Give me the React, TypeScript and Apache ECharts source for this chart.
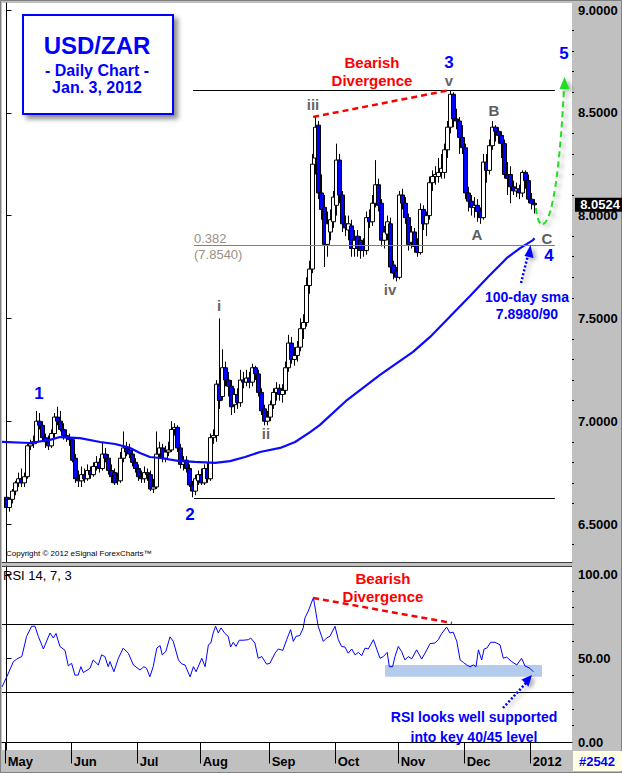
import React, { useEffect, useRef } from 'react';
import * as echarts from 'echarts';

// ---------- data ----------
const monthLabels = ['May', 'Jun', 'Jul', 'Aug', 'Sep', 'Oct', 'Nov', 'Dec', '2012'];
const monthStartBars = [0, 22, 44, 65, 88, 110, 131, 153, 175];

// daily bars, [open, high, low, close]
const ohlc: number[][] = [
  [6.63, 6.65, 6.56, 6.58], [6.58, 6.63, 6.56, 6.62], [6.62, 6.67, 6.60, 6.66], [6.66, 6.71, 6.64, 6.70],
  [6.70, 6.75, 6.68, 6.72], [6.72, 6.77, 6.68, 6.70], [6.70, 6.75, 6.68, 6.73], [6.73, 6.89, 6.72, 6.88],
  [6.88, 6.91, 6.86, 6.89], [6.89, 6.93, 6.87, 6.90], [6.90, 7.05, 6.89, 7.00], [7.00, 7.04, 6.96, 6.98],
  [6.98, 7.00, 6.90, 6.92], [6.92, 6.94, 6.87, 6.90], [6.90, 6.93, 6.86, 6.88], [6.88, 6.96, 6.87, 6.94],
  [6.94, 7.04, 6.92, 7.02], [7.02, 7.07, 6.98, 7.00], [7.00, 7.05, 6.95, 6.96], [6.96, 6.99, 6.91, 6.93],
  [6.93, 6.96, 6.90, 6.92], [6.92, 6.94, 6.88, 6.91],
  [6.91, 6.92, 6.80, 6.81], [6.82, 6.84, 6.70, 6.72], [6.72, 6.76, 6.68, 6.71], [6.71, 6.78, 6.68, 6.74],
  [6.74, 6.77, 6.70, 6.72], [6.72, 6.79, 6.71, 6.76], [6.76, 6.78, 6.72, 6.74], [6.74, 6.80, 6.73, 6.78],
  [6.78, 6.83, 6.76, 6.80], [6.80, 6.82, 6.75, 6.77], [6.77, 6.90, 6.76, 6.84], [6.84, 6.87, 6.80, 6.82],
  [6.82, 6.84, 6.74, 6.76], [6.76, 6.79, 6.70, 6.73], [6.75, 6.77, 6.69, 6.70], [6.72, 6.75, 6.69, 6.71],
  [6.71, 6.85, 6.70, 6.82], [6.82, 6.95, 6.80, 6.87], [6.87, 6.90, 6.83, 6.85], [6.86, 6.89, 6.82, 6.84],
  [6.84, 6.86, 6.78, 6.80], [6.80, 6.82, 6.75, 6.77],
  [6.77, 6.79, 6.71, 6.73], [6.73, 6.76, 6.70, 6.72], [6.72, 6.78, 6.70, 6.75], [6.75, 6.77, 6.71, 6.74],
  [6.74, 6.76, 6.66, 6.67], [6.67, 6.72, 6.65, 6.68], [6.68, 6.95, 6.67, 6.84], [6.84, 6.90, 6.82, 6.87],
  [6.87, 6.89, 6.80, 6.82], [6.82, 6.88, 6.80, 6.85], [6.85, 6.90, 6.83, 6.86], [6.86, 7.00, 6.85, 6.96],
  [6.96, 6.99, 6.93, 6.97], [6.97, 6.98, 6.85, 6.87], [6.87, 6.89, 6.77, 6.79], [6.79, 6.83, 6.76, 6.81],
  [6.81, 6.83, 6.75, 6.77], [6.77, 6.79, 6.68, 6.69], [6.69, 6.71, 6.63, 6.66], [6.66, 6.74, 6.64, 6.72],
  [6.71, 6.76, 6.69, 6.74],
  [6.74, 6.77, 6.69, 6.70], [6.70, 6.79, 6.69, 6.77], [6.77, 6.80, 6.70, 6.72], [6.72, 6.94, 6.71, 6.92],
  [6.92, 6.96, 6.89, 6.93], [6.93, 7.20, 6.90, 7.18], [7.18, 7.50, 7.06, 7.10], [7.12, 7.35, 7.10, 7.26],
  [7.26, 7.29, 7.17, 7.20], [7.20, 7.24, 7.12, 7.17], [7.17, 7.20, 7.03, 7.07], [7.08, 7.16, 7.04, 7.13],
  [7.13, 7.16, 7.06, 7.09], [7.09, 7.25, 7.07, 7.20], [7.20, 7.24, 7.16, 7.19], [7.19, 7.25, 7.17, 7.21],
  [7.21, 7.24, 7.16, 7.19], [7.19, 7.28, 7.17, 7.26], [7.26, 7.27, 7.20, 7.23], [7.23, 7.25, 7.12, 7.14],
  [7.14, 7.16, 7.03, 7.05], [7.06, 7.08, 6.98, 7.00], [7.00, 7.05, 6.98, 7.02],
  [7.02, 7.10, 7.00, 7.08], [7.08, 7.16, 7.06, 7.14], [7.14, 7.19, 7.10, 7.16], [7.16, 7.18, 7.10, 7.13],
  [7.13, 7.18, 7.09, 7.15], [7.15, 7.29, 7.13, 7.26], [7.26, 7.42, 7.24, 7.38], [7.38, 7.41, 7.28, 7.30],
  [7.30, 7.36, 7.27, 7.32], [7.32, 7.39, 7.29, 7.36], [7.36, 7.50, 7.34, 7.45], [7.45, 7.52, 7.40, 7.48],
  [7.48, 7.70, 7.46, 7.66], [7.66, 7.78, 7.62, 7.74], [7.74, 8.30, 7.72, 8.25], [8.28, 8.48, 8.20, 8.43],
  [8.44, 8.46, 8.08, 8.11], [8.11, 8.20, 7.98, 8.03], [8.04, 8.10, 7.75, 7.86], [7.86, 8.02, 7.80, 7.96],
  [7.92, 8.03, 7.88, 7.98], [7.97, 8.12, 7.94, 8.09],
  [8.05, 8.35, 8.00, 8.27], [8.27, 8.30, 8.06, 8.10], [8.10, 8.12, 7.92, 7.96], [7.96, 8.00, 7.90, 7.94],
  [7.93, 8.00, 7.88, 7.96], [7.95, 7.98, 7.80, 7.84], [7.84, 7.93, 7.80, 7.88], [7.90, 7.93, 7.80, 7.84],
  [7.88, 7.90, 7.79, 7.83], [7.86, 7.89, 7.80, 7.83], [7.83, 8.02, 7.81, 7.99], [7.99, 8.03, 7.94, 7.97],
  [7.97, 8.10, 7.95, 8.06], [8.06, 8.27, 8.04, 8.15], [8.15, 8.18, 8.02, 8.05], [8.06, 8.08, 7.85, 7.88],
  [7.88, 7.95, 7.84, 7.92], [7.91, 8.00, 7.88, 7.97], [7.96, 7.99, 7.72, 7.75], [7.76, 7.78, 7.69, 7.72],
  [7.73, 7.75, 7.68, 7.70],
  [7.70, 8.12, 7.69, 8.10], [8.10, 8.13, 8.03, 8.06], [8.06, 8.09, 7.96, 7.99], [7.99, 8.01, 7.83, 7.86],
  [7.87, 7.95, 7.84, 7.92], [7.92, 7.94, 7.82, 7.85], [7.86, 7.89, 7.80, 7.82], [7.82, 8.06, 7.81, 8.03],
  [8.03, 8.05, 7.93, 7.96], [7.96, 8.02, 7.90, 8.00], [8.00, 8.19, 7.98, 8.16], [8.16, 8.22, 8.12, 8.19],
  [8.19, 8.24, 8.15, 8.20], [8.19, 8.28, 8.16, 8.21], [8.21, 8.30, 8.18, 8.23], [8.21, 8.35, 8.18, 8.32],
  [8.32, 8.46, 8.28, 8.43], [8.43, 8.61, 8.40, 8.59], [8.59, 8.60, 8.43, 8.47], [8.47, 8.52, 8.42, 8.46],
  [8.46, 8.48, 8.30, 8.38], [8.38, 8.44, 8.30, 8.33],
  [8.33, 8.35, 8.08, 8.11], [8.11, 8.14, 8.02, 8.07], [8.07, 8.10, 8.00, 8.04], [8.04, 8.09, 7.99, 8.05],
  [8.05, 8.08, 7.97, 8.02], [8.02, 8.04, 7.96, 7.99], [7.99, 8.30, 7.98, 8.26], [8.26, 8.30, 8.16, 8.22],
  [8.22, 8.37, 8.20, 8.34], [8.34, 8.46, 8.32, 8.43], [8.43, 8.44, 8.36, 8.41], [8.41, 8.43, 8.35, 8.39],
  [8.39, 8.41, 8.28, 8.35], [8.35, 8.37, 8.18, 8.20], [8.20, 8.26, 8.10, 8.18], [8.20, 8.24, 8.06, 8.14],
  [8.14, 8.17, 8.10, 8.12], [8.12, 8.16, 8.09, 8.13], [8.13, 8.15, 8.08, 8.11], [8.11, 8.22, 8.09, 8.21],
  [8.21, 8.22, 8.13, 8.17], [8.17, 8.20, 8.06, 8.08],
  [8.08, 8.11, 8.03, 8.06], [8.06, 8.08, 8.01, 8.0524],
];

// 100-day SMA, [bar position, value]
const smaPoints: number[][] = [
  [-1.5, 6.899], [7.8, 6.894], [14.5, 6.909], [17.8, 6.923], [24.5, 6.918], [31.2, 6.899], [36.2, 6.889],
  [41.2, 6.870], [44.5, 6.845], [47.8, 6.826], [51.2, 6.821], [57.8, 6.806], [62.8, 6.802], [69.5, 6.797],
  [74.5, 6.806], [79.5, 6.826], [84.5, 6.850], [91.2, 6.870], [96.2, 6.899], [101.2, 6.947], [104.5, 6.982],
  [113.5, 7.103], [124.5, 7.225], [135.5, 7.337], [141.2, 7.410], [154.5, 7.609], [160.5, 7.701],
  [166.8, 7.794], [171.2, 7.842], [175.5, 7.881], [176, 7.890],
];

// RSI(14,7,3), [bar position, value]
const rsiPoints: number[][] = [
  [-1.5, 33], [0.1, 39], [2.3, 48], [3.4, 49.5], [5.1, 51], [6.7, 63], [8.4, 69], [9.5, 69], [10.6, 63],
  [12.3, 55.5], [14.5, 65], [15.6, 62], [16.5, 64.7], [17.8, 57], [19.5, 54.7], [20.6, 45.5], [21.7, 47],
  [22.8, 40], [23.9, 40], [24.8, 45], [25.6, 41.5], [27.8, 44], [28.9, 49], [30.6, 46], [31.7, 52],
  [32.8, 51], [33.9, 45], [34.5, 48], [35.8, 42], [37.3, 50], [38.9, 56], [40.6, 53], [42.3, 46],
  [44.5, 43], [45.8, 45], [46.7, 44], [47.8, 39], [48.9, 45], [50.1, 56], [51.2, 57.5], [51.9, 52],
  [53.1, 54], [54.5, 62.7], [55.6, 60], [57.3, 49], [58.4, 46.7], [59.5, 46], [61.2, 39], [62.3, 45],
  [63.2, 42], [65.1, 50], [66.2, 45], [67.3, 58], [68.1, 59], [68.9, 65], [69.7, 69], [70.6, 65],
  [71.5, 68], [72.8, 64.7], [73.9, 63], [74.7, 56.7], [75.6, 59.5], [76.5, 57], [77.6, 60.7], [78.9, 60.7],
  [80.6, 61], [81.4, 62], [82.8, 59], [83.9, 50], [85.1, 51], [86.7, 46.5], [87.8, 47], [89.5, 53],
  [90.6, 55.5], [92.1, 54.7], [93.4, 61], [94.7, 67], [95.6, 60], [96.5, 63], [97.8, 63.5], [98.9, 68],
  [99.5, 74], [100.6, 78], [102.3, 86], [103.9, 69], [105.6, 60], [106.7, 62], [107.8, 63], [109.5, 69],
  [110.6, 61], [111.7, 57], [112.8, 56.7], [113.9, 53], [115.1, 55.5], [116.2, 52], [117.3, 53.5],
  [118.4, 51.5], [119.5, 56], [120.6, 55.5], [122.3, 61], [123.4, 55.5], [124.5, 50], [125.6, 51],
  [126.9, 53.5], [127.6, 45], [128.7, 45], [129.5, 51], [130.6, 57], [131.7, 54], [132.8, 49], [133.9, 51],
  [135.1, 49.7], [136.7, 55], [138.4, 49.5], [140.1, 55], [141.2, 58.7], [142.8, 59], [143.9, 61],
  [145.1, 64.7], [146.7, 68.5], [147.8, 65], [148.9, 65.5], [150.1, 60], [151.2, 49], [152.3, 47.5],
  [153.4, 46], [154.5, 45], [155.6, 46], [156.5, 45], [157.3, 55], [158.4, 49], [159.2, 55.5], [160.1, 56],
  [161.4, 59.5], [162.8, 59.5], [164.5, 58], [165.6, 50], [166.7, 50.7], [168.4, 48], [170.1, 46],
  [171.7, 50], [172.8, 45.5], [174.5, 44], [175.6, 42],
];

const priceTicks = [6.5, 7.0, 7.5, 8.0, 8.5, 9.0];
const priceMinorTicks = [6.4, 6.6, 6.7, 6.8, 6.9, 7.1, 7.2, 7.3, 7.4, 7.6, 7.7, 7.8, 7.9, 8.1, 8.2, 8.3, 8.4, 8.6, 8.7, 8.8, 8.9];
const rsiTicks = [0, 50, 100];
const rsiMinorTicks = [10, 20, 30, 40, 60, 70, 80, 90];
const rsiBands = [70, 30];
const lastPrice = 8.0524;
const highLine = 8.611; // wave 3 high
const lowLine = 6.626; // wave 2 low
const fibLevel = 7.854; // 0.382 retracement
const priceDivergence = [[102.2, 8.48], [147.6, 8.61]];
const rsiDivergence = [[102.2, 85.8], [148.5, 70.9]];
const rsiSupport = [[126.2, 46], [178.5, 39]];

// ---------- layout ----------
const SLOTS = 190;
const XMIN = -1.5;
const XMAX = XMIN + SLOTS;
const FF = '"Liberation Sans", Arial, sans-serif';
const font = (size: number, bold = true) => `${bold ? 'bold ' : ''}${size}px ${FF}`;

function txt(text: string, x: number, y: number, size: number, fill: string, bold = true, align = 'center') {
  return {
    type: 'text', x, y, z: 100,
    style: { text, font: font(size, bold), fill, align, verticalAlign: 'middle' },
  };
}

const shadow = { shadowBlur: 4, shadowOffsetX: 3, shadowOffsetY: 2, shadowColor: 'rgba(0,0,0,0.35)' };

export default function App() {
  const ref = useRef<HTMLDivElement>(null);

  useEffect(() => {
    document.body.style.margin = '0';
    if (!ref.current) return;
    const chart = echarts.init(ref.current, undefined, { renderer: 'svg' });

    const categories = Array.from({ length: SLOTS }, (_, i) => String(i));
    const candles = ohlc.map((r, i) => [i + 1, r[0], r[3], r[2], r[1]]);
    const tickVals = monthStartBars.map((b) => b - 0.5);
    const labelVals = tickVals.map((v) => v + 0.9);

    const pMin = 9 - (562 - 10) / 205.6;
    const pMax = 9 + (10 - 3) / 205.6;
    const rMin = -(750 - 742.5) / 1.685;
    const rMax = (742.5 - 566) / 1.685;

    const option: any = {
      animation: false,
      backgroundColor: '#c0c0c0',
      grid: [
        { left: 2, top: 3, width: 570, height: 559, show: true, backgroundColor: '#ffffff', borderWidth: 0 },
        { left: 2, top: 566, width: 570, height: 184, show: true, backgroundColor: '#ffffff', borderWidth: 0 },
      ],
      xAxis: [
        { type: 'category', gridIndex: 0, data: categories, boundaryGap: true, show: false, position: 'bottom' },
        {
          type: 'value', gridIndex: 0, min: XMIN, max: XMAX, position: 'bottom',
          axisLine: { show: true, lineStyle: { color: '#404040', width: 1 } },
          axisTick: { show: false }, axisLabel: { show: false }, splitLine: { show: false },
        },
        {
          type: 'value', gridIndex: 1, min: XMIN, max: XMAX, position: 'bottom',
          axisLine: { show: true, lineStyle: { color: '#000', width: 1 } },
          axisTick: { show: true, customValues: tickVals, length: 21, lineStyle: { color: '#000', width: 1 } },
          axisLabel: {
            show: true, customValues: labelVals, align: 'left', verticalAlign: 'top', margin: 5,
            color: '#000', fontWeight: 'bold', fontSize: 13, fontFamily: FF,
            formatter: (v: number) => {
              const k = labelVals.findIndex((x) => Math.abs(x - v) < 1e-6);
              return k >= 0 ? monthLabels[k] : '';
            },
          },
          splitLine: { show: false },
        },
      ],
      yAxis: [
        {
          type: 'value', gridIndex: 0, min: pMin, max: pMax, position: 'right',
          axisLine: { show: true, lineStyle: { color: '#000', width: 1 } },
          axisTick: { show: true, customValues: priceTicks, length: 5, lineStyle: { color: '#000' } },
          axisLabel: {
            customValues: priceTicks, formatter: (v: number) => v.toFixed(4), margin: 6,
            color: '#000', fontWeight: 'bold', fontSize: 13, fontFamily: FF,
          },
          splitLine: { show: false },
        },
        {
          type: 'value', gridIndex: 0, min: pMin, max: pMax, position: 'right',
          axisLine: { show: false },
          axisTick: { show: true, customValues: priceMinorTicks, length: 2, lineStyle: { color: '#000' } },
          axisLabel: { show: false }, splitLine: { show: false },
        },
        {
          type: 'value', gridIndex: 1, min: rMin, max: rMax, position: 'right',
          axisLine: { show: true, lineStyle: { color: '#000', width: 1 } },
          axisTick: { show: true, customValues: rsiTicks, length: 5, lineStyle: { color: '#000' } },
          axisLabel: {
            customValues: rsiTicks, formatter: (v: number) => v.toFixed(2), margin: 6,
            color: '#000', fontWeight: 'bold', fontSize: 13, fontFamily: FF,
          },
          splitLine: { show: false },
        },
        {
          type: 'value', gridIndex: 1, min: rMin, max: rMax, position: 'right',
          axisLine: { show: false },
          axisTick: { show: true, customValues: rsiMinorTicks, length: 2, lineStyle: { color: '#000' } },
          axisLabel: { show: false }, splitLine: { show: false },
        },
      ],
      series: [
        {
          type: 'candlestick', xAxisIndex: 0, yAxisIndex: 0, data: candles,
          encode: { x: 0, y: [1, 2, 3, 4] }, barWidth: 4,
          itemStyle: { color: '#ffffff', color0: '#0000ff', borderColor: '#000', borderColor0: '#000', borderWidth: 1 },
        },
        {
          type: 'line', xAxisIndex: 1, yAxisIndex: 0, data: smaPoints, showSymbol: false, silent: true,
          lineStyle: { color: '#0a0aff', width: 2.2 }, z: 3,
          markLine: {
            silent: true, symbol: ['none', 'none'], label: { show: false },
            lineStyle: { color: '#000', width: 1, type: 'solid' },
            data: [
              [{ coord: [62.2, highLine] }, { coord: [182.8, highLine] }],
              [{ coord: [62.5, lowLine] }, { coord: [182.8, lowLine] }],
              [{ coord: [62.5, fibLevel], lineStyle: { color: '#808080', width: 1, type: 'solid' } }, { coord: [182.8, fibLevel] }],
              [{ coord: priceDivergence[0], lineStyle: { color: '#ff0000', width: 2.5, type: [6, 4] } }, { coord: priceDivergence[1] }],
            ],
          },
        },
        {
          type: 'line', xAxisIndex: 2, yAxisIndex: 2, data: rsiPoints, showSymbol: false, silent: true,
          lineStyle: { color: '#0000ff', width: 1 }, z: 3,
          markLine: {
            silent: true, symbol: ['none', 'none'], label: { show: false },
            lineStyle: { color: '#000', width: 1, type: 'solid' },
            data: [
              ...rsiBands.map((v) => ({ yAxis: v })),
              [{ coord: rsiDivergence[0], lineStyle: { color: '#ff0000', width: 2.5, type: [6, 4] } }, { coord: rsiDivergence[1] }],
            ],
          },
          markArea: {
            silent: true, itemStyle: { color: '#b5cbec' },
            data: [[{ coord: rsiSupport[0] }, { coord: rsiSupport[1] }]],
          },
        },
      ],
    };
    chart.setOption(option);

    const py = chart.convertToPixel({ yAxisIndex: 0 } as any, lastPrice) as number;

    const graphic: any[] = [
      // outer frame and panel separators
      { type: 'rect', z: 90, shape: { x: 0.5, y: 0.5, width: 621, height: 772 }, style: { fill: 'none', stroke: '#808080', lineWidth: 1 } },
      { type: 'line', z: 90, shape: { x1: 2, y1: 566.5, x2: 572, y2: 566.5 }, style: { stroke: '#404040', lineWidth: 1 } },
      { type: 'rect', z: 90, shape: { x: 573, y: 751, width: 49, height: 20 }, style: { fill: '#ffffe4' } },
      txt('#2542', 597, 761, 13, '#0000ff'),
      // last price box
      { type: 'rect', z: 100, shape: { x: 575, y: py - 7, width: 47, height: 14 }, style: { fill: '#000' } },
      txt(lastPrice.toFixed(4), 600, py, 13, '#ffffff'),
      // title box
      {
        type: 'rect', z: 95, shape: { x: 23, y: 15, width: 150, height: 99 },
        style: { fill: '#fff', stroke: '#0000ff', lineWidth: 2, shadowBlur: 5, shadowOffsetX: 4, shadowOffsetY: 4, shadowColor: 'rgba(0,0,0,0.45)' },
      },
      txt('USD/ZAR', 97, 45, 24, '#0000ff'),
      txt('- Daily Chart -', 97, 70, 16, '#0000ff'),
      txt('Jan. 3, 2012', 97, 87, 16, '#0000ff'),
      // wave labels
      txt('1', 39, 393, 17, '#0000ff'),
      txt('2', 190, 514, 17, '#0000ff'),
      txt('3', 449, 62, 17, '#0000ff'),
      txt('4', 549, 255, 17, '#0000ff'),
      txt('5', 564, 53, 17, '#0000ff'),
      txt('i', 219, 305, 15, '#666666'),
      txt('ii', 266, 433, 15, '#666666'),
      txt('iii', 313, 104, 15, '#666666'),
      txt('iv', 390, 289, 15, '#666666'),
      txt('v', 449, 80, 15, '#666666'),
      txt('A', 477, 234, 15, '#5c5c5c'),
      txt('B', 494, 110, 15, '#5c5c5c'),
      txt('C', 547, 238, 15, '#5c5c5c'),
      txt('Bearish', 372, 62, 15, '#ff0000'),
      txt('Divergence', 372, 80, 15, '#ff0000'),
      txt('0.382', 194, 238, 13, '#9c9080', false, 'left'),
      txt('(7.8540)', 194, 254, 13, '#9c9080', false, 'left'),
      txt('100-day sma', 527, 297, 14, '#0000ff'),
      txt('7.8980/90', 527, 314, 14, '#0000ff'),
      txt('Copyright \u00a9 2012 eSignal ForexCharts\u2122', 6, 553, 8, '#000', false, 'left'),
      // RSI panel labels
      txt('RSI 14, 7, 3', 3, 575, 13, '#000', false, 'left'),
      txt('Bearish', 383, 578, 15, '#ff0000'),
      txt('Divergence', 383, 596, 15, '#ff0000'),
      txt('RSI looks well supported', 474, 717, 14, '#0000ff'),
      txt('into key 40/45 level', 474, 737, 14, '#0000ff'),
      // projected wave 5 path
      {
        type: 'bezierCurve', z: 98,
        shape: { x1: 536, y1: 208, cpx1: 537, cpy1: 220, cpx2: 540, cpy2: 225, x2: 543, y2: 224 },
        style: { stroke: '#22dd22', lineWidth: 2, fill: 'none', lineDash: [6, 4], ...shadow },
      },
      {
        type: 'bezierCurve', z: 98,
        shape: { x1: 543, y1: 224, cpx1: 554, cpy1: 222, cpx2: 561, cpy2: 150, x2: 564, y2: 88 },
        style: { stroke: '#22dd22', lineWidth: 2, fill: 'none', lineDash: [6, 4], ...shadow },
      },
      { type: 'polygon', z: 98, shape: { points: [[564.5, 77], [559.5, 89], [569.5, 89]] }, style: { fill: '#22dd22', ...shadow } },
      // arrow to SMA
      { type: 'line', z: 98, shape: { x1: 521, y1: 283, x2: 528, y2: 255 }, style: { stroke: '#0000ff', lineWidth: 2.5, lineDash: [2, 2], ...shadow } },
      { type: 'polygon', z: 98, shape: { points: [[530.5, 245], [524.5, 256], [533.5, 258]] }, style: { fill: '#0000ff', ...shadow } },
      // arrow to RSI support
      { type: 'line', z: 98, shape: { x1: 503, y1: 708, x2: 526, y2: 683 }, style: { stroke: '#0000ff', lineWidth: 2.5, lineDash: [2, 2], ...shadow } },
      { type: 'polygon', z: 98, shape: { points: [[532, 675], [528.5, 686.5], [521.5, 679.5]] }, style: { fill: '#0000ff', ...shadow } },
    ];
    chart.setOption({ graphic });

    return () => chart.dispose();
  }, []);

  return <div ref={ref} style={{ width: 622, height: 773 }} />;
}
